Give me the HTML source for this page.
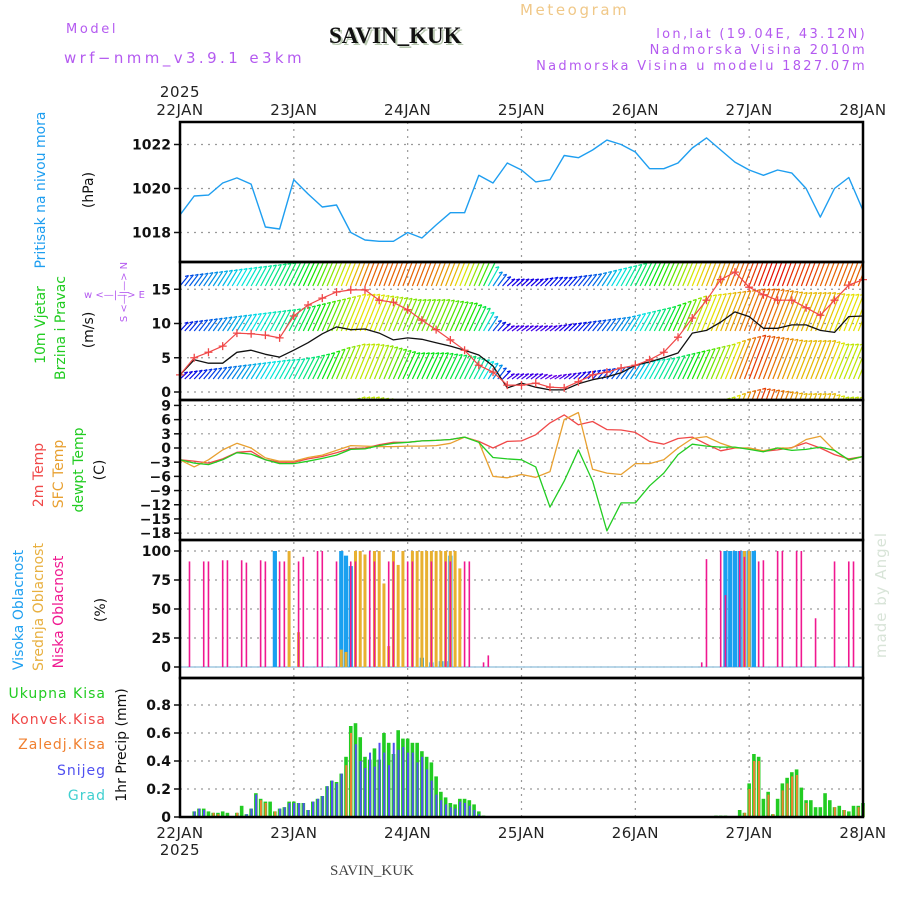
<!DOCTYPE html>
<html><head><meta charset="utf-8"><title>Meteogram SAVIN_KUK</title>
<style>
html,body{margin:0;padding:0;background:#fff;}
svg{display:block;}
text{font-family:"DejaVu Sans","Liberation Sans",sans-serif;}
.hd{font-size:13px;letter-spacing:2.3px;fill:#b45af0;}
.tick{font-size:14px;font-weight:600;fill:#111;}
.xl{font-size:15px;fill:#222;letter-spacing:0.5px;}
.lab{font-size:14px;}
</style></head>
<body>
<svg id="chart" width="900" height="900" viewBox="0 0 900 900" xmlns="http://www.w3.org/2000/svg">
<defs>
<clipPath id="clipWind"><rect x="180" y="263" width="683" height="136"/></clipPath>
</defs>
<text x="66" y="33" class="hd" style="letter-spacing:2.6px">Model</text>
<text x="64" y="63" class="hd" style="font-size:15px;letter-spacing:3.4px">wrf−nmm_v3.9.1 e3km</text>
<text x="331" y="45" style="font-family:'Liberation Serif',serif;font-size:23px;font-weight:bold;fill:#b8c8b0">SAVIN_KUK</text>
<text x="329" y="43" style="font-family:'Liberation Serif',serif;font-size:23px;font-weight:bold;fill:#111">SAVIN_KUK</text>
<text x="520" y="15" style="font-size:15px;letter-spacing:2.6px;fill:#f0c888">Meteogram</text>
<text x="867" y="38" text-anchor="end" class="hd">lon,lat (19.04E, 43.12N)</text>
<text x="867" y="54" text-anchor="end" class="hd">Nadmorska Visina 2010m</text>
<text x="867" y="70" text-anchor="end" class="hd">Nadmorska Visina u modelu 1827.07m</text>
<g id="grid"></g>
<g id="marks"></g>
<g id="frames"></g>
<g id="labels"></g>
<text x="45" y="190" transform="rotate(-90 45 190)" text-anchor="middle" class="lab" style="fill:#1e9ef0">Pritisak na nivou mora</text>
<text x="93" y="190" transform="rotate(-90 93 190)" text-anchor="middle" class="lab" style="fill:#111">(hPa)</text>
<text x="45" y="325" transform="rotate(-90 45 325)" text-anchor="middle" class="lab" style="fill:#22cc22">10m Vjetar</text>
<text x="65" y="328" transform="rotate(-90 65 328)" text-anchor="middle" class="lab" style="fill:#22cc22">Brzina i Pravac</text>
<text x="93" y="330" transform="rotate(-90 93 330)" text-anchor="middle" class="lab" style="fill:#111">(m/s)</text>
<text x="84" y="298" style="font-size:10px;fill:#b45af0">w &lt;—|—&gt; E</text>
<text x="127" y="292" transform="rotate(-90 127 292)" text-anchor="middle" style="font-size:10px;fill:#b45af0">S &lt;—|—&gt; N</text>
<text x="43" y="475" transform="rotate(-90 43 475)" text-anchor="middle" class="lab" style="fill:#f04848">2m Temp</text>
<text x="63" y="474" transform="rotate(-90 63 474)" text-anchor="middle" class="lab" style="fill:#e8a030">SFC Temp</text>
<text x="83" y="470" transform="rotate(-90 83 470)" text-anchor="middle" class="lab" style="fill:#22cc22">dewpt Temp</text>
<text x="104" y="470" transform="rotate(-90 104 470)" text-anchor="middle" class="lab" style="fill:#111">(C)</text>
<text x="23" y="610" transform="rotate(-90 23 610)" text-anchor="middle" class="lab" style="fill:#20a0f0">Visoka Oblacnost</text>
<text x="43" y="607" transform="rotate(-90 43 607)" text-anchor="middle" class="lab" style="fill:#e8b040">Srednja Oblacnost</text>
<text x="63" y="612" transform="rotate(-90 63 612)" text-anchor="middle" class="lab" style="fill:#f01890">Niska Oblacnost</text>
<text x="105" y="610" transform="rotate(-90 105 610)" text-anchor="middle" class="lab" style="fill:#111">(%)</text>
<text x="106" y="698" text-anchor="end" class="lab" style="fill:#22cc22;letter-spacing:1px">Ukupna  Kisa</text>
<text x="106" y="724" text-anchor="end" class="lab" style="fill:#f04848;letter-spacing:1px">Konvek.Kisa</text>
<text x="106" y="749" text-anchor="end" class="lab" style="fill:#f08030;letter-spacing:1px">Zaledj.Kisa</text>
<text x="106" y="775" text-anchor="end" class="lab" style="fill:#5050f0;letter-spacing:1px">Snijeg</text>
<text x="106" y="800" text-anchor="end" class="lab" style="fill:#40d0d0;letter-spacing:1px">Grad</text>
<text x="126" y="745" transform="rotate(-90 126 745)" text-anchor="middle" class="lab" style="fill:#111">1hr Precip (mm)</text>
<text x="886" y="595" transform="rotate(-90 886 595)" text-anchor="middle" style="font-size:15px;fill:#d8e4d8;letter-spacing:1px">made by Angel</text>
<text x="330" y="875" style="font-family:'Liberation Serif',serif;font-size:15px;fill:#444">SAVIN_KUK</text>
</svg>
<script>
// ---- data (3-hourly series, hours 0..144 from 22JAN 00UTC) ----
const dayLabels = ["22JAN","23JAN","24JAN","25JAN","26JAN","27JAN","28JAN"];
const pressure = [1018.8,1019.66,1019.7,1020.25,1020.48,1020.2,1018.25,1018.16,1020.4,1019.75,
 1019.16,1019.25,1018,1017.66,1017.6,1017.6,1018,1017.75,1018.34,1018.9,
 1018.9,1020.6,1020.25,1021.16,1020.84,1020.3,1020.4,1021.5,1021.4,1021.75,
 1022.2,1022,1021.66,1020.9,1020.9,1021.16,1021.84,1022.3,1021.75,1021.2,
 1020.84,1020.6,1020.84,1020.7,1020,1018.7,1020,1020.5,1019];
const windSpeed = [2.5,4.7,4.2,4.2,5.8,6.1,5.5,5.1,6.1,7.2,
 8.5,9.5,9.1,9.2,8.6,7.6,7.9,7.7,7.2,6.7,
 6.1,5.4,3.8,0.6,1.3,0.7,0.3,0.3,1.2,1.8,
 2.2,2.8,3.9,4.4,5,5.7,8.6,9,10.2,11.7,
 11,9.3,9.3,9.8,9.8,9,8.7,11,11.1];
const windGust = [2.5,5,5.8,6.7,8.6,8.5,8.3,7.9,11.1,12.7,
 13.7,14.6,14.9,14.9,13.4,13.1,12,10.5,9.1,7.6,
 6.1,3.9,2.9,1,1,1.3,0.7,0.6,1.5,2.5,
 2.9,3.5,3.9,4.7,5.8,8,10.8,13.4,16.4,17.5,
 15.3,14.2,13.4,13.4,12.3,11.2,13.4,15.6,16.4];
const barbRowA = [3,3.5,4,4.5,5,5.5,6,6.5,7,8, 9,10,11,12,12,12,12,12,11.5,11,
 10,8.5,4,2,2,2,2.5,2.5,3,3.5, 4.5,5.5,6.5,7.5,8.5,9.5,10.5,11,11.5,12,
 12.5,13,13,12.5,12.5,12,12,12,12];
const barbRowB = [2.5,3,3.5,4,4.5,5,5.5,6,6.5,7.5, 8.5,9.5,10.5,10.5,10,9.5,9,9,9,8.5,
 8,6.5,3,1.5,1.5,1.5,1.5,2,2.5,3, 3.5,4,5,6,7,8.5,10,10.5,11,11.5,
 12,12,11.5,11,11,11,10.5,10.5,10.5];
const barbRowC = [2,2.5,3,3.5,4,4.5,5,5.5,5.8,6.5, 7.5,9,10,10,9.5,8.5,7.5,7.5,7.5,7,
 6.5,5.5,4,1.5,1.5,1.5,1,1.5,2,2.5, 3,3.5,4.5,5.5,6,7,8,9,10,11.5,
 12.5,12,11.5,11,11,11,10,10,10];
const temp2m = [-2.5,-2.8,-3.2,-2.3,-0.9,-0.7,-2.5,-3,-3,-2.3,
 -1.8,-1,-0.1,0,0.7,1.2,1.2,1.5,1.6,1.8,
 2.3,1.4,0,1.4,1.5,2.8,5.3,7,4.9,5.6,
 3.9,3.8,3.3,1.4,0.8,2,2.3,0.8,-0.6,0,
 0,-0.7,-0.4,0.1,1.1,0,-1.4,-2.3,-1.8];
const tempSfc = [-2.5,-4,-2.5,-0.4,1,0,-2.1,-2.8,-2.8,-2,
 -1.5,-0.5,0.5,0.4,0.3,0.3,0.4,0.4,0.5,1,
 2.3,1.3,-6,-6.3,-5.6,-6.2,-5,6,7.5,-4.5,
 -5.3,-5.6,-3.3,-3.3,-2.5,0,2,2.4,1,0,
 0,-0.6,0,0,1.8,2.5,-0.5,-2.6,-1.8];
const dewpt = [-2.5,-3.2,-3.5,-2.5,-1,-1.3,-2.5,-3.3,-3.3,-2.8,
 -2.2,-1.5,-0.3,-0.2,0.5,1,1.2,1.5,1.6,1.8,
 2.3,1.2,-2,-2.3,-2.5,-4,-12.5,-7,-0.4,-7,
 -17.5,-11.6,-11.6,-8,-5.3,-1.4,0.8,0.4,0.2,0.2,
 -0.3,-0.8,0,-0.5,-0.3,0.2,-0.5,-2.5,-1.8];
const lowHours = [2,5,6,9,10,13,14,17,18,21,22,25,26,29,30,33,36,37,40,41,44,45,48,49,53,56,57,60,61,64,65,110,111,114,115,118,119,122,123,126,127,130,131,134,138,141,142];
const lowVals = [91,91,91,92,92,92,90,92,91,91,91,91,95,100,100,91,91,91,100,91,91,91,91,91,91,91,91,91,91,4,10,4,93,100,62,100,95,91,92,100,100,100,100,42,91,91,91];
const midHours = [23,25,34,35,37,38,39,41,42,43,44,45,46,47,49,50,51,52,53,54,55,56,57,58,59,119,120];
const midVals = [100,30,15,13,100,100,97,100,100,72,18,100,88,100,100,100,100,100,100,100,100,100,100,100,85,100,100];
const highHours = [20,34,35,36,51,53,55,56,57,115,116,117,118,119,120,121];
const highVals = [100,100,96,87,8,4,5,5,96,100,100,100,100,100,100,100];
const precipHours = [3,4,5,6,7,8,9,10,12,13,14,15,16,17,18,19,20,21,22,23,24,25,26,27,28,29,30,31,32,33,34,35,36,37,38,39,40,41,42,43,44,45,46,47,48,49,50,51,52,53,54,55,56,57,58,59,60,61,62,63,64,
 113,114,115,118,119,120,121,122,123,124,125,126,127,128,129,130,131,132,133,134,135,136,137,138,139,140,141,142,143,144];
const precipTotal = [.04,.06,.06,.04,.03,.03,.04,.03,.03,.08,.02,.06,.17,.13,.11,.11,.04,.06,.07,.11,.11,.1,.1,.05,.11,.13,.15,.22,.26,.25,.31,.43,.65,.67,.57,.43,.41,.49,.41,.6,.53,.45,.62,.56,.56,.53,.53,.47,.43,.39,.29,.18,.14,.1,.09,.13,.13,.12,.09,.04,.01,
 .01,.01,.01,.05,.03,.24,.45,.43,.13,.18,.02,.13,.24,.28,.32,.34,.21,.12,.12,.07,.07,.17,.12,.07,.08,.05,.04,.08,.08,.1];
const snowHours = [3,4,5,14,15,16,21,22,23,24,25,26,27,28,29,30,31,32,33,34,37,38,39,40,41,42,43,44,45,46,47,48,49,50,51,52,53,54,55,56,57,58,59,60,61,62,63];
const snowVals = [.04,.06,.05,.02,.06,.16,.06,.07,.1,.1,.1,.1,.05,.11,.13,.15,.22,.26,.24,.31,.52,.4,.35,.46,.36,.53,.46,.37,.53,.48,.5,.46,.46,.39,.43,.34,.26,.16,.12,.09,.07,.06,.11,.1,.08,.05,.02];
const frzHours = [7,8,12,17,18,20,35,36,119,120,121,122,124,125,127,128,129,130,132,138,140,143,144];
const frzVals = [.03,.02,.03,.12,.1,.04,.37,.6,.03,.2,.4,.4,.16,.02,.19,.24,.29,.3,.1,.07,.05,.07,.08];
const pressTicks = [1018,1020,1022];
const windTicks = [0,5,10,15];
const tempTicks = [9,6,3,0,-3,-6,-9,-12,-15,-18];
const cloudTicks = [0,25,50,75,100];
const precipTicks = [0,0.2,0.4,0.6,0.8];

// ---- axes ----
const X0 = 180, X1 = 863, HOURS = 144, STEP = 3;
const X = h => X0 + h * (X1 - X0) / HOURS;
const yP = v => 144.5 + (1022 - v) * 22;
const yW = v => 392 - v * 6.85;
const yT = v => 448 - v * 4.73;
const yC = v => 667 - v * 1.16;
const yR = v => 817 - v * 140;
const panels = [[122,262],[262,400],[400,540],[540,678],[678,817]];
const NS = "http://www.w3.org/2000/svg";
function mk(parent, tag, attrs) {
  const e = document.createElementNS(NS, tag);
  for (const k in attrs) e.setAttribute(k, attrs[k]);
  parent.appendChild(e); return e;
}
const gGrid = document.getElementById('grid');
const gMarks = document.getElementById('marks');
const gFrames = document.getElementById('frames');
const gLab = document.getElementById('labels');

dayLabels.forEach((d, i) => {
  const x = X(i * 24);
  if (i > 0 && i < dayLabels.length - 1) {
    const l = mk(gGrid, 'line', {x1:x, y1:122, x2:x, y2:817, stroke:'#999', 'stroke-width':1.2, 'stroke-dasharray':'2,5'});
    
    
  }
  const t1 = mk(gLab, 'text', {x:x, y:115, 'text-anchor':'middle', class:'xl'});
  t1.textContent = d;
  
  
  const t2 = mk(gLab, 'text', {x:x, y:838, 'text-anchor':'middle', class:'xl'});
  t2.textContent = d;
  
  
});
[[180,97],[180,855]].forEach(p => {
  const t = mk(gLab, 'text', {x:p[0], y:p[1], 'text-anchor':'middle', class:'xl'});
  t.textContent = '2025';
  
  
});

function hTicks(ticks, yf, fmt, name) {
  ticks.forEach(v => {
    const y = yf(v);
    const l = mk(gGrid, 'line', {x1:X0, y1:y, x2:X1, y2:y, stroke:'#999', 'stroke-width':1.2, 'stroke-dasharray':'2,5'});
    
    
    mk(gFrames, 'line', {x1:X0-6, y1:y, x2:X0, y2:y, stroke:'#111', 'stroke-width':1.5});
    const t = mk(gLab, 'text', {x:X0-9, y:y+5, 'text-anchor':'end', class:'tick'});
    t.textContent = fmt(v);
    
    
  });
}
hTicks(pressTicks, yP, v => String(v), 'pressure');
hTicks(windTicks, yW, v => String(v), 'wind');
hTicks(tempTicks, yT, v => String(v).replace('-', '−'), 'temp');
hTicks(cloudTicks, yC, v => String(v), 'cloud');
hTicks(precipTicks, yR, v => v === 0 ? '0' : v.toFixed(1), 'precip');

panels.forEach(p => {
  const r = mk(gFrames, 'rect', {x:X0, y:p[0], width:X1-X0, height:p[1]-p[0], fill:'none', stroke:'#000', 'stroke-width':2.5});
  
  
});

function poly(vals, yf, color, name, w) {
  const pts = vals.map((v, i) => X(i * STEP).toFixed(1) + ',' + yf(v).toFixed(1)).join(' ');
  const p = mk(gMarks, 'polyline', {points:pts, fill:'none', stroke:color, 'stroke-width':w || 1.3, 'stroke-linejoin':'round'});
  
  
  return p;
}
poly(pressure, yP, '#1e9ef0', 'pressure-line', 1.4);

const gWind = mk(gMarks, 'g', {'clip-path':'url(#clipWind)'});


function hueFor(v) { return Math.max(0, Math.min(285, 290 - v * 22)); }
function barbRow(arr, base, name) {
  for (let h = 0; h <= HOURS; h++) {
    const i = Math.floor(h / STEP), f = (h % STEP) / STEP;
    const v = i + 1 < arr.length ? arr[i] * (1 - f) + arr[i + 1] * f : arr[i];
    const x = X(h), dy = v * 3.5, dx = 6 + v * 0.85;
    const c = 'hsl(' + hueFor(v) + ',100%,45%)';
    const l = mk(gWind, 'line', {x1:x, y1:base, x2:x+dx, y2:base-dy, stroke:c, 'stroke-width':1.2});
    
    
    mk(gWind, 'line', {x1:x+dx, y1:base-dy, x2:x+dx-3.5, y2:base-dy+1, stroke:c, 'stroke-width':1.2});
  }
}
barbRow(barbRowA, 286, 'wind-row-a');
barbRow(barbRowB, 331, 'wind-row-b');
barbRow(barbRowC, 379, 'wind-row-c');
barbRow(barbRowC, 432, 'wind-row-d');
poly(windSpeed, yW, '#111', 'wind-speed-line', 1.3);
poly(windGust, yW, '#f04848', 'wind-gust-line', 1.2);
windGust.forEach((v, i) => {
  const x = X(i * STEP), y = yW(v);
  const m = mk(gMarks, 'path', {d:`M${x-4},${y}h8M${x},${y-4}v8`, stroke:'#f04848', 'stroke-width':1.3});
  
  
});

poly(temp2m, yT, '#f04848', 'temp-2m-line', 1.3);
poly(tempSfc, yT, '#e8a030', 'temp-sfc-line', 1.3);
poly(dewpt, yT, '#22cc22', 'dewpoint-line', 1.3);

const base0 = mk(gMarks, 'line', {x1:X0, y1:yC(0), x2:X1, y2:yC(0), stroke:'#a0c8e0', 'stroke-width':1.5});


function cloudBars(hours, vals, color, w, name) {
  hours.forEach((h, i) => {
    const y = yC(vals[i]);
    const r = mk(gMarks, 'rect', {x:X(h)-w/2, y:y, width:w, height:yC(0)-y, fill:color});
    
    
  });
}
cloudBars(highHours, highVals, '#1aa0f0', 4.2, 'high-cloud-bar');
cloudBars(midHours, midVals, '#e8b030', 3, 'mid-cloud-bar');
cloudBars(lowHours, lowVals, '#f01890', 1.6, 'low-cloud-bar');

function precipBars(hours, vals, color, w, off, name) {
  hours.forEach((h, i) => {
    const y = yR(vals[i]);
    const r = mk(gMarks, 'rect', {x:X(h)-w/2+off, y:y, width:w, height:yR(0)-y, fill:color});
    
    
  });
}
precipBars(precipHours, precipTotal, '#22cc22', 3.6, 0, 'total-precip-bar');
precipBars(frzHours, frzVals, '#f08030', 2, 0.3, 'freezing-precip-bar');
precipBars(snowHours, snowVals, '#5050f0', 2, 0.3, 'snow-bar');
</script>
</body></html>
